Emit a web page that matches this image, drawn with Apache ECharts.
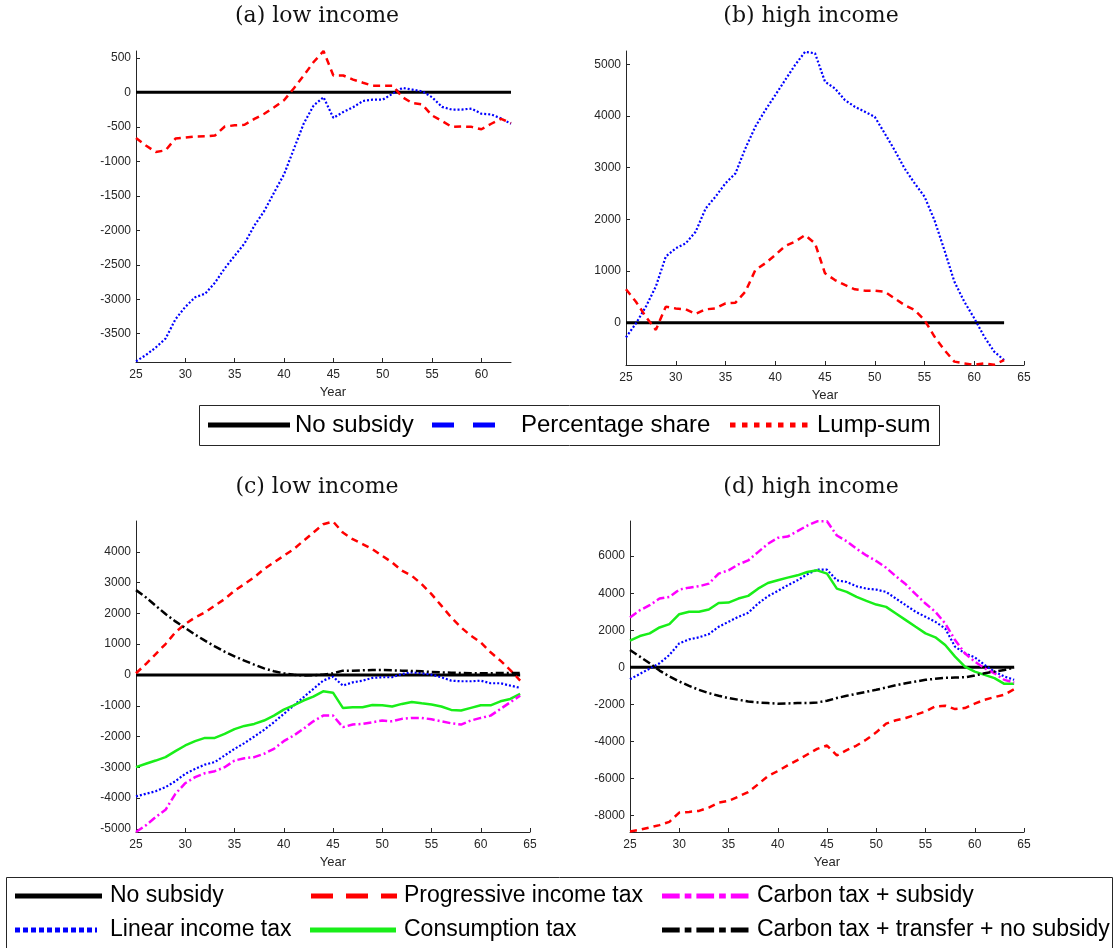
<!DOCTYPE html>
<html>
<head>
<meta charset="utf-8">
<title>Subsidy panels</title>
<script src="https://cdn.jsdelivr.net/npm/echarts@6/dist/echarts.min.js"></script>
<style>
  html, body { margin: 0; padding: 0; background: #fff; }
  #chart { width: 1115px; height: 948px; }
</style>
</head>
<body>
<div id="chart"></div>
<script>
// ages on the x axis
const yearsAB = [25,26,27,28,29,30,31,32,33,34,35,36,37,38,39,40,41,42,43,44,45,46,47,48,49,50,51,52,53,54,55,56,57,58,59,60,61,62,63];
const yearsCD = [25,26,27,28,29,30,31,32,33,34,35,36,37,38,39,40,41,42,43,44,45,46,47,48,49,50,51,52,53,54,55,56,57,58,59,60,61,62,63,64];

// (a) low income
const aNoSubsidy = [0,0,0,0,0,0,0,0,0,0,0,0,0,0,0,0,0,0,0,0,0,0,0,0,0,0,0,0,0,0,0,0,0,0,0,0,0,0,0];
const aPercentage = [-3900,-3810,-3700,-3570,-3290,-3110,-2970,-2920,-2760,-2550,-2370,-2190,-1930,-1720,-1450,-1190,-820,-450,-190,-70,-370,-285,-215,-125,-105,-105,-20,65,40,15,-70,-210,-250,-250,-235,-310,-320,-380,-455];
const aLumpSum = [-660,-770,-865,-840,-670,-655,-640,-638,-625,-495,-478,-470,-385,-310,-215,-115,60,245,440,600,245,245,185,140,97,97,97,-70,-155,-175,-335,-415,-500,-495,-500,-535,-455,-385,-445];

// (b) high income
const bNoSubsidy = [0,0,0,0,0,0,0,0,0,0,0,0,0,0,0,0,0,0,0,0,0,0,0,0,0,0,0,0,0,0,0,0,0,0,0,0,0,0,0];
const bPercentage = [-285,-15,310,700,1280,1440,1535,1760,2210,2440,2700,2890,3375,3795,4115,4405,4700,4990,5245,5215,4665,4535,4310,4180,4085,3985,3665,3340,2985,2700,2440,1985,1405,795,405,85,-270,-560,-725];
const bLumpSum = [645,405,115,-140,310,275,258,168,258,275,375,387,600,1020,1150,1310,1485,1570,1695,1535,955,825,730,645,620,620,600,470,340,245,50,-270,-530,-755,-790,-815,-790,-815,-725];

// (c) low income
const cNoSubsidy = [0,0,0,0,0,0,0,0,0,0,0,0,0,0,0,0,0,0,0,0,0,0,0,0,0,0,0,0,0,0,0,0,0,0,0,0,0,0,0,0];
const cProgressive = [55,355,680,1005,1385,1655,1870,2030,2250,2465,2735,2950,3170,3440,3655,3870,4085,4355,4625,4895,4985,4625,4410,4250,4085,3870,3655,3385,3220,2950,2625,2250,1870,1545,1275,1060,735,465,160,-185];
const cCarbonTransfer = [2755,2520,2250,1980,1740,1525,1310,1115,930,755,605,465,335,215,120,55,10,-20,-10,10,55,140,140,150,160,160,150,140,130,120,95,85,75,65,55,55,55,65,65,65];
const cLinear = [-3945,-3860,-3775,-3645,-3450,-3210,-3050,-2910,-2830,-2615,-2400,-2215,-2000,-1785,-1535,-1265,-995,-725,-455,-185,-55,-345,-240,-185,-95,-75,-75,30,85,55,10,-75,-185,-205,-205,-185,-270,-270,-345,-420];
const cConsumption = [-2995,-2885,-2780,-2670,-2475,-2290,-2150,-2045,-2045,-1915,-1760,-1655,-1590,-1480,-1320,-1125,-985,-830,-705,-530,-575,-1070,-1050,-1050,-975,-985,-1025,-940,-875,-920,-960,-1025,-1135,-1155,-1070,-985,-985,-855,-780,-615];
const cCarbonSubsidy = [-5100,-4885,-4615,-4380,-3860,-3515,-3320,-3190,-3125,-2995,-2780,-2705,-2670,-2560,-2400,-2150,-1970,-1750,-1505,-1320,-1320,-1695,-1610,-1590,-1535,-1480,-1505,-1425,-1395,-1395,-1440,-1505,-1570,-1610,-1480,-1395,-1320,-1105,-885,-670];

// (d) high income
const dNoSubsidy = [0,0,0,0,0,0,0,0,0,0,0,0,0,0,0,0,0,0,0,0,0,0,0,0,0,0,0,0,0,0,0,0,0,0,0,0,0,0,0,0];
const dProgressive = [-8870,-8780,-8655,-8530,-8350,-7850,-7815,-7760,-7580,-7310,-7220,-6990,-6740,-6325,-5880,-5610,-5305,-5020,-4715,-4410,-4230,-4765,-4480,-4230,-3905,-3515,-3045,-2865,-2740,-2565,-2385,-2115,-2080,-2260,-2205,-1970,-1755,-1615,-1485,-1185];
const dCarbonTransfer = [930,575,215,-180,-500,-770,-1005,-1220,-1400,-1540,-1665,-1755,-1845,-1900,-1935,-1970,-1955,-1935,-1935,-1900,-1810,-1665,-1540,-1435,-1325,-1220,-1095,-970,-860,-770,-680,-625,-575,-555,-540,-450,-325,-235,-145,-20];
const dLinear = [-645,-360,-70,215,665,1290,1505,1615,1790,2185,2455,2725,2940,3440,3835,4120,4425,4695,5020,5270,5270,4695,4605,4375,4245,4195,4070,3710,3350,2995,2725,2455,2095,1110,755,540,125,-235,-500,-680];
const dConsumption = [1435,1685,1830,2150,2330,2865,2995,2995,3120,3475,3495,3710,3855,4245,4550,4695,4840,4965,5145,5235,5055,4245,4070,3800,3585,3385,3260,2905,2545,2185,1830,1615,1200,575,35,-235,-410,-590,-895,-895];
const dCarbonSubsidy = [2690,3080,3350,3710,3800,4195,4300,4375,4515,5055,5235,5555,5770,6220,6665,6990,7060,7350,7650,7885,7885,7115,6810,6400,6040,5735,5375,4910,4480,3945,3440,2995,2365,1470,755,305,-55,-325,-680,-825];

// tick labels
const xTicksA = [25,30,35,40,45,50,55,60];
const xTicksFull = [25,30,35,40,45,50,55,60,65];
const yTicksA = [-3500,-3000,-2500,-2000,-1500,-1000,-500,0,500];
const yTicksB = [0,1000,2000,3000,4000,5000];
const yTicksC = [-5000,-4000,-3000,-2000,-1000,0,1000,2000,3000,4000];
const yTicksD = [-8000,-6000,-4000,-2000,0,2000,4000,6000];

const sans = '"Liberation Sans", Arial, Helvetica, sans-serif';
const axisColor = '#262626';

const dotted = [2, 2];
const dashed = [7, 5];
const dashDot = [8, 3, 2, 3];

function plain(v) { return String(v); }

function xAxisFor(i, max, ticks, namePad) {
  return {
    gridIndex: i, type: 'value', min: 25, max: max,
    name: 'Year', nameLocation: 'middle', nameGap: 24,
    nameTextStyle: { fontSize: 13, color: axisColor, fontFamily: sans, padding: [0, 0, 0, namePad] },
    axisLine: { onZero: false, lineStyle: { color: axisColor, width: 1 } },
    axisTick: { inside: true, length: 4, customValues: ticks, lineStyle: { color: axisColor } },
    axisLabel: { customValues: ticks, formatter: plain, margin: 7, fontSize: 12, color: axisColor, fontFamily: sans },
    splitLine: { show: false }
  };
}

function yAxisFor(i, min, max, ticks) {
  return {
    gridIndex: i, type: 'value', min: min, max: max,
    axisLine: { show: true, onZero: false, lineStyle: { color: axisColor, width: 1 } },
    axisTick: { show: true, inside: true, length: 4, customValues: ticks, lineStyle: { color: axisColor } },
    axisLabel: { customValues: ticks, formatter: plain, margin: 5, fontSize: 12, color: axisColor, fontFamily: sans },
    splitLine: { show: false }
  };
}

function line(i, xs, ys, color, width, type, z) {
  return {
    type: 'line', xAxisIndex: i, yAxisIndex: i,
    data: xs.map((x, k) => [x, ys[k]]),
    showSymbol: false, symbol: 'none', z: z,
    lineStyle: { color: color, width: width, type: type, cap: 'butt' }
  };
}

const series = [
  line(0, yearsAB, aNoSubsidy, '#000', 3, 'solid', 2),
  line(0, yearsAB, aPercentage, '#0000ff', 2.2, dotted, 3),
  line(0, yearsAB, aLumpSum, '#ff0000', 2.5, dashed, 4),

  line(1, yearsAB, bNoSubsidy, '#000', 3, 'solid', 2),
  line(1, yearsAB, bPercentage, '#0000ff', 2.2, dotted, 3),
  line(1, yearsAB, bLumpSum, '#ff0000', 2.5, dashed, 4),

  line(2, yearsCD, cNoSubsidy, '#000', 3, 'solid', 2),
  line(2, yearsCD, cLinear, '#0000ff', 2.2, dotted, 3),
  line(2, yearsCD, cProgressive, '#ff0000', 2.5, dashed, 3),
  line(2, yearsCD, cConsumption, '#19ee19', 2.5, 'solid', 3),
  line(2, yearsCD, cCarbonSubsidy, '#ff00ff', 2.5, dashDot, 3),
  line(2, yearsCD, cCarbonTransfer, '#000', 2.5, dashDot, 4),

  line(3, yearsCD, dNoSubsidy, '#000', 3, 'solid', 2),
  line(3, yearsCD, dLinear, '#0000ff', 2.2, dotted, 3),
  line(3, yearsCD, dProgressive, '#ff0000', 2.5, dashed, 3),
  line(3, yearsCD, dConsumption, '#19ee19', 2.5, 'solid', 3),
  line(3, yearsCD, dCarbonSubsidy, '#ff00ff', 2.5, dashDot, 3),
  line(3, yearsCD, dCarbonTransfer, '#000', 2.5, dashDot, 4)
];

function title(x, y, text) {
  return { type: 'text', x: x, y: y, style: { text: text, fontSize: 22, fontFamily: '"DejaVu Serif", serif', fill: '#111', align: 'center', verticalAlign: 'middle' } };
}
function legLine(x1, x2, y, color, dash) {
  return { type: 'line', shape: { x1: x1, y1: y, x2: x2, y2: y }, style: { stroke: color, lineWidth: 5, lineDash: dash, lineCap: 'butt' }, z: 101 };
}
function legText(x, y, text, size) {
  return { type: 'text', x: x, y: y, style: { text: text, fontSize: size, fontFamily: sans, fill: '#000', align: 'left', verticalAlign: 'middle' }, z: 101 };
}

const graphic = [
  title(317, 16, '(a) low income'),
  title(811, 16, '(b) high income'),
  title(317, 487, '(c) low income'),
  title(811, 487, '(d) high income'),

  // top legend
  { type: 'rect', shape: { x: 199.5, y: 405.5, width: 740, height: 40 }, style: { fill: '#fff', stroke: axisColor, lineWidth: 1 }, z: 100 },
  legLine(208, 290, 425, '#000', null),
  legText(295, 425, 'No subsidy', 24),
  legLine(432, 495, 425, '#0000ff', [22, 19]),
  legText(521, 425, 'Percentage share', 24),
  legLine(730, 808, 425, '#ff0000', [5.5, 6.5]),
  legText(817, 425, 'Lump-sum', 24),

  // bottom legend
  { type: 'rect', shape: { x: 6.5, y: 877.5, width: 1106, height: 100 }, style: { fill: '#fff', stroke: axisColor, lineWidth: 1 }, z: 100 },
  legLine(15, 102, 896, '#000', null),
  legText(110, 896, 'No subsidy', 23),
  legLine(15, 97, 930, '#0000ff', [5, 3]),
  legText(110, 930, 'Linear income tax', 23),
  legLine(311, 397, 896, '#ff0000', [22, 13]),
  legText(404, 896, 'Progressive income tax', 23),
  legLine(310, 396, 930, '#19ee19', null),
  legText(404, 930, 'Consumption tax', 23),
  legLine(662, 749, 896, '#ff00ff', [17.7, 5, 6.7, 5]),
  legText(757, 896, 'Carbon tax + subsidy', 23),
  legLine(662, 749, 930, '#000', [17.7, 5, 6.7, 5]),
  legText(757, 930, 'Carbon tax + transfer + no subsidy', 23)
];

const chart = echarts.init(document.getElementById('chart'), null, { renderer: 'canvas' });
chart.setOption({
  animation: false,
  backgroundColor: '#fff',
  grid: [
    { left: 136, top: 51, width: 375, height: 311 },
    { left: 626, top: 51, width: 398, height: 314 },
    { left: 136, top: 521, width: 394, height: 311 },
    { left: 630, top: 521, width: 394, height: 311 }
  ],
  xAxis: [
    xAxisFor(0, 63, xTicksA, 19),
    xAxisFor(1, 65, xTicksFull, 0),
    xAxisFor(2, 65, xTicksFull, 0),
    xAxisFor(3, 65, xTicksFull, 0)
  ],
  yAxis: [
    yAxisFor(0, -3910, 600, yTicksA),
    yAxisFor(1, -820, 5260, yTicksB),
    yAxisFor(2, -5100, 5000, yTicksC),
    yAxisFor(3, -8900, 7900, yTicksD)
  ],
  series: series,
  graphic: graphic
});
</script>
</body>
</html>
